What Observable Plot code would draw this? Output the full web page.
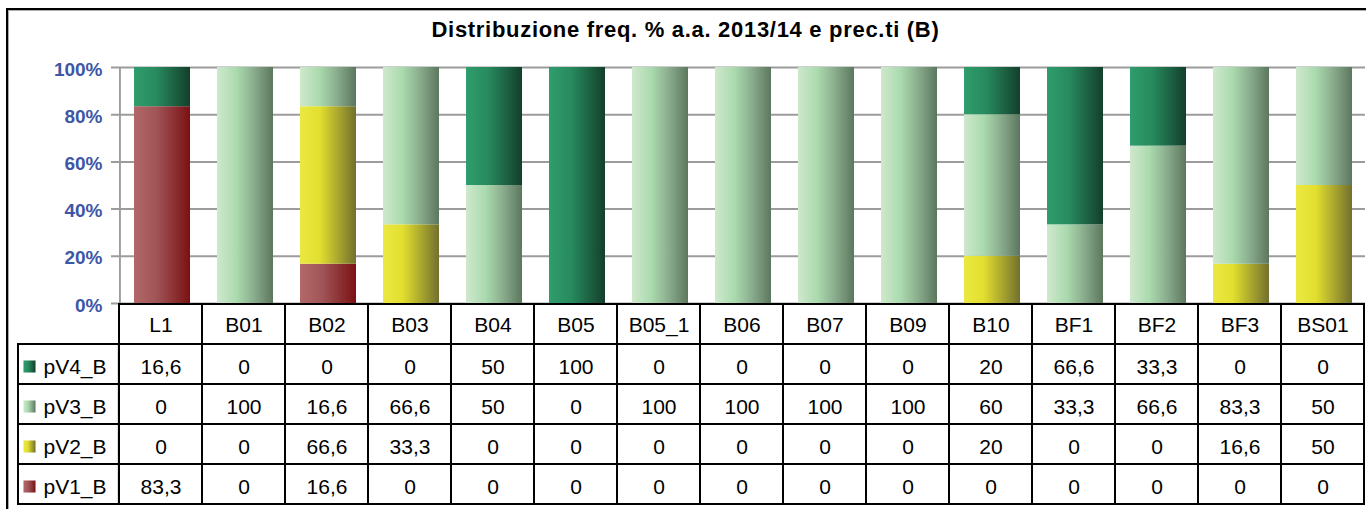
<!DOCTYPE html>
<html><head><meta charset="utf-8">
<script src="https://cdn.jsdelivr.net/npm/d3@7"></script>
<script src="https://cdn.jsdelivr.net/npm/@observablehq/plot@0.6"></script>
<style>
body{margin:0;background:#fff;width:1366px;height:509px;overflow:hidden;position:relative;font-family:"Liberation Sans",Arial,sans-serif}
#border{position:absolute;left:6px;top:8px;width:1400px;height:600px;border-left:2px solid #000;border-top:2px solid #000;box-shadow:inset 1px 1px 0 #aaa}
#title{position:absolute;left:0;width:1371px;top:19px;text-align:center;font-size:22px;line-height:22px;font-weight:bold;letter-spacing:0.7px;color:#000}
#chart{position:absolute;left:0;top:50px}
#table{position:absolute;left:0;top:302px}
</style></head><body>
<div id="border"></div>
<div id="title">Distribuzione freq. % a.a. 2013/14 e prec.ti (B)</div>
<div id="chart"></div>
<div id="table"></div>
<script>
// ---- data ----
const categories = ["L1","B01","B02","B03","B04","B05","B05_1","B06","B07","B09","B10","BF1","BF2","BF3","BS01"];
const seriesNames = ["pV4_B","pV3_B","pV2_B","pV1_B"]; // table order, top to bottom
const pV4_B = [16.6,0,0,0,50,100,0,0,0,0,20,66.6,33.3,0,0];
const pV3_B = [0,100,16.6,66.6,50,0,100,100,100,100,60,33.3,66.6,83.3,50];
const pV2_B = [0,0,66.6,33.3,0,0,0,0,0,0,20,0,0,16.6,50];
const pV1_B = [83.3,0,16.6,0,0,0,0,0,0,0,0,0,0,0,0];
const yTicks = [0,0.2,0.4,0.6,0.8,1];

// ---- styles ----
const gradStops = {
  pV4_B: [["0%","#2F9D6C"],["40%","#278A5E"],["100%","#133F2B"]],
  pV3_B: [["0%","#CFE8CC"],["35%","#AADAAE"],["65%","#8BAE8E"],["100%","#5C775E"]],
  pV2_B: [["0%","#EBE842"],["35%","#E3DF2F"],["100%","#72702E"]],
  pV1_B: [["0%","#B26868"],["40%","#A05457"],["100%","#7A1113"]]
};
const W = 1366, ML = 118, MR = 1;
const bw = (W - ML - MR) / categories.length;
const FONT = "Liberation Sans, Arial, sans-serif";

const values = {pV4_B, pV3_B, pV2_B, pV1_B};
const stackOrder = ["pV1_B","pV2_B","pV3_B","pV4_B"]; // bottom to top
const stackRows = stackOrder.flatMap(s => categories.map((c, i) => ({cat: c, series: s, value: values[s][i]})));
const cells = seriesNames.flatMap(s => categories.map((c, i) => ({cat: c, series: s, value: values[s][i]})));
const fmt = v => String(v).replace(".", ",");

function defsMark() {
  return () => {
    const d = d3.create("svg:defs");
    for (const s of seriesNames) {
      const g = d.append("linearGradient").attr("id", "g_" + s)
        .attr("x1", "0").attr("x2", "1").attr("y1", "0").attr("y2", "0");
      for (const [o, c] of gradStops[s]) g.append("stop").attr("offset", o).attr("stop-color", c);
    }
    return d.node();
  };
}
const colorScale = {type: "ordinal", domain: seriesNames, range: seriesNames.map(s => `url(#g_${s})`)};

const chart = Plot.plot({
  width: W, height: 256, marginTop: 17, marginBottom: 3, marginLeft: ML, marginRight: MR,
  x: {domain: categories, padding: 0, axis: null},
  y: {domain: [0, 1], axis: null},
  color: colorScale,
  style: {background: "transparent", fontFamily: FONT, overflow: "visible"},
  marks: [
    defsMark(),
    Plot.ruleY(yTicks, {y: d => d, stroke: "#9C9C9C", strokeWidth: 2, insetLeft: -7}),
    Plot.barY([categories[0]], {x: d => d, y1: 0, y2: 1, fill: "#9C9C9C", insetRight: bw - 2}),
    Plot.barY(stackRows, Plot.stackY({x: "cat", y: "value", fill: "series", offset: "normalize", insetLeft: 15, insetRight: 12})),
    Plot.text(yTicks, {y: d => d, text: d => d3.format(".0%")(d), frameAnchor: "left", dx: -16, dy: 2,
      textAnchor: "end", fill: "#3D56A6", fontWeight: "bold", fontSize: 19})
  ]
});
document.getElementById("chart").appendChild(chart);

const table = Plot.plot({
  width: W, height: 207, marginTop: 1, marginBottom: 4, marginLeft: ML, marginRight: MR,
  x: {domain: categories, padding: 0, axis: null},
  y: {domain: ["hdr", ...seriesNames], padding: 0, axis: null},
  color: colorScale,
  style: {background: "transparent", fontFamily: FONT, overflow: "visible"},
  marks: [
    Plot.cell(categories, {x: d => d, y: () => "hdr", fill: "white", stroke: "#000", strokeWidth: 2}),
    Plot.text(categories, {x: d => d, y: () => "hdr", text: d => d, fontSize: 21, dy: 1, fill: "#000"}),
    Plot.cell(cells, {x: "cat", y: "series", fill: "white", stroke: "#000", strokeWidth: 2}),
    Plot.text(cells, {x: "cat", y: "series", text: d => fmt(d.value), fontSize: 21, dy: 3, fill: "#000"}),
    Plot.cell(seriesNames, {x: () => categories[0], y: d => d, fill: "white", stroke: "#000", strokeWidth: 2,
      insetLeft: -(ML - 17), insetRight: bw}),
    Plot.dot(seriesNames, {y: d => d, frameAnchor: "left", dx: -(ML - 29), dy: 2, symbol: "square", r: 6.8, fill: d => d, stroke: "none"}),
    Plot.text(seriesNames, {y: d => d, frameAnchor: "left", dx: -(ML - 43), dy: 3, textAnchor: "start", text: d => d, fontSize: 21, fill: "#000"})
  ]
});
document.getElementById("table").appendChild(table);
</script>
</body></html>
